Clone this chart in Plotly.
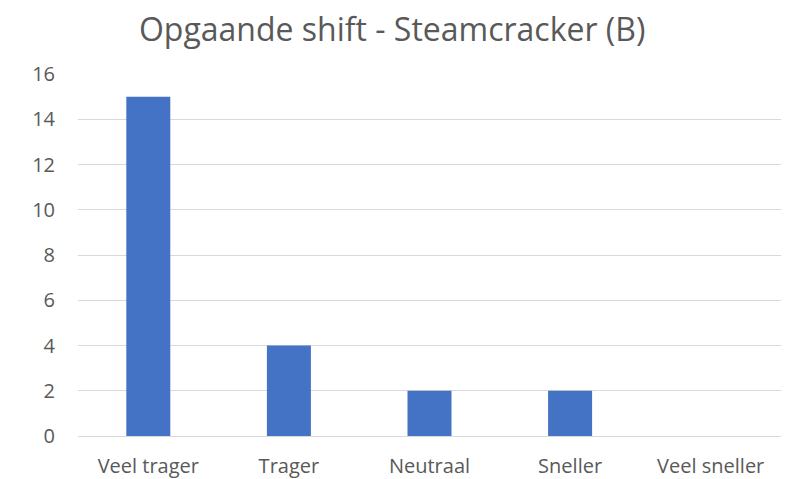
import plotly.graph_objects as go

categories = ["Veel trager", "Trager", "Neutraal", "Sneller", "Veel sneller"]
values = [15, 4, 2, 2, 0]
title_text = "Opgaande shift - Steamcracker (B)"

W, H = 784, 471

fig = go.Figure(go.Bar(x=categories, y=values, marker_color="#4472C4", marker_line_width=0))

fig.update_layout(
    width=W, height=H,
    margin=dict(l=70, r=11, t=66, b=43, pad=0, autoexpand=False),
    paper_bgcolor="white", plot_bgcolor="white",
    font=dict(family="Open Sans, sans-serif", color="#595959", size=20),
    title=dict(text=title_text, x=0.49, xanchor="center", y=1 - 22 / H, yanchor="middle",
               font=dict(size=32, color="#595959"), automargin=False),
    bargap=0.687,
    showlegend=False,
)
fig.update_yaxes(range=[0, 16], dtick=2, showgrid=True, gridcolor="#D9D9D9", gridwidth=1,
                 zeroline=False, showline=False, ticks="", ticklabelstandoff=22,
                 tickfont=dict(size=20), automargin=False)
fig.update_xaxes(showline=True, linecolor="#D9D9D9", linewidth=1, ticks="", showgrid=False,
                 ticklabelstandoff=12, tickfont=dict(size=20), automargin=False)

fig.write_html("out.html")
